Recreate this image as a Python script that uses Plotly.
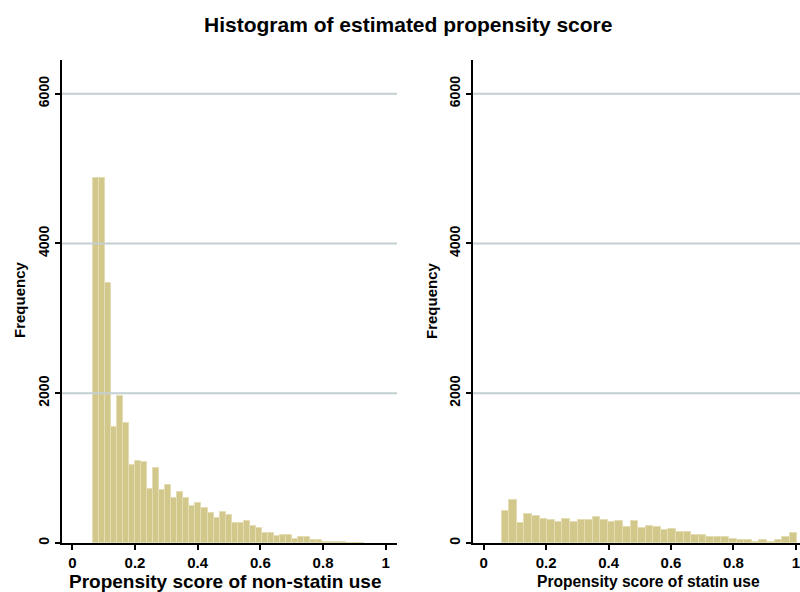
import plotly.graph_objects as go

# ---- data ----
left_counts = [4880, 4880, 3470, 1547, 1960, 1600, 1040, 1100, 1085, 720,
               1000, 707, 770, 604, 680, 596, 493, 537, 462, 404,
               329, 418, 369, 267, 267, 293, 222, 204, 138, 138,
               93, 111, 110, 55, 84, 84, 40, 35, 20, 15,
               10, 8, 5, 3, 2]
left_start = 0.0656
left_width = 0.01925

right_counts = [430, 573, 261, 386, 355, 324, 307, 274, 320, 274,
                307, 307, 344, 307, 274, 289, 208, 297, 200, 231,
                208, 173, 191, 142, 142, 111, 111, 84, 84, 84,
                53, 40, 44, 17, 40, 17, 44, 84, 137]
right_start = 0.058
right_width = 0.02426

x_ticks = [0, 0.2, 0.4, 0.6, 0.8, 1]
x_ticktext = ["0", "0.2", "0.4", "0.6", "0.8", "1"]
y_ticks = [0, 2000, 4000, 6000]
y_ticktext = ["0", "2000", "4000", "6000"]

title = "Histogram of estimated propensity score"
xlabel_left = "Propensity score of non-statin use"
xlabel_right = "Propensity score of statin use"
ylabel = "Frequency"

# ---- styling ----
FONT = "Liberation Sans, Arial, sans-serif"
BAR_FILL = "#d3c88c"
BAR_EDGE = "#e4ddb3"
GRID = "#c3cfd1"
W, H = 800, 592


def centers(start, width, n):
    return [start + width * (i + 0.5) for i in range(n)]


fig = go.Figure()
fig.add_trace(go.Bar(
    x=centers(left_start, left_width, len(left_counts)), y=left_counts,
    width=left_width, marker=dict(color=BAR_FILL, line=dict(color=BAR_EDGE, width=1)),
    xaxis="x", yaxis="y", showlegend=False, hoverinfo="x+y"))
fig.add_trace(go.Bar(
    x=centers(right_start, right_width, len(right_counts)), y=right_counts,
    width=right_width, marker=dict(color=BAR_FILL, line=dict(color=BAR_EDGE, width=1)),
    xaxis="x2", yaxis="y2", showlegend=False, hoverinfo="x+y"))

ydom = [(H - 543) / H, (H - 60) / H]
xtickfont = dict(family=FONT, size=15, color="black", weight="bold")
ytickfont = dict(family=FONT, size=14, color="black", weight="bold")
xaxis_common = dict(
    tickvals=x_ticks, ticktext=x_ticktext, showgrid=False, zeroline=False,
    showline=True, linecolor="black", linewidth=2,
    ticks="outside", ticklen=5, tickwidth=2, tickcolor="black",
    tickfont=xtickfont, ticklabeloverflow="allow",
)
yaxis_common = dict(
    tickvals=y_ticks, ticktext=y_ticktext, showgrid=False, zeroline=False,
    showline=True, linecolor="black", linewidth=2,
    ticks="outside", ticklen=5, tickwidth=2, tickcolor="black",
    tickangle=-90, range=[0, 6450], domain=ydom,
    tickfont=ytickfont,
)

fig.update_layout(
    width=W, height=H,
    margin=dict(l=0, r=0, t=0, b=0, autoexpand=False),
    paper_bgcolor="white", plot_bgcolor="white",
    bargap=0,
    xaxis=dict(domain=[62 / W, 397 / W], range=[-0.033, 1.036], anchor="y", **xaxis_common),
    yaxis=dict(anchor="x", **yaxis_common),
    xaxis2=dict(domain=[473 / W, 1.0], range=[-0.034, 1.013], anchor="y2", **xaxis_common),
    yaxis2=dict(anchor="x2", **yaxis_common),
)

# gridlines drawn above bars as in the reference
for yv in y_ticks[1:]:
    for xr, yr in (("x domain", "y"), ("x2 domain", "y2")):
        fig.add_shape(type="line", xref=xr, yref=yr, x0=0, x1=1, y0=yv, y1=yv,
                      line=dict(color=GRID, width=2), layer="above")

ann_font = dict(family=FONT, color="black")
fig.add_annotation(text="<b>" + title + "</b>", x=408 / W, y=(H - 25) / H,
                   xref="paper", yref="paper", showarrow=False,
                   font=dict(size=21, **ann_font), xanchor="center", yanchor="middle")
fig.add_annotation(text="<b>" + xlabel_left + "</b>", x=225 / W, y=(H - 581) / H,
                   xref="paper", yref="paper", showarrow=False,
                   font=dict(size=19, **ann_font), xanchor="center", yanchor="middle")
fig.add_annotation(text="<b>" + xlabel_right + "</b>", x=648 / W, y=(H - 581) / H,
                   xref="paper", yref="paper", showarrow=False,
                   font=dict(size=15.6, **ann_font), xanchor="center", yanchor="middle")
for xc in (19, 431):
    fig.add_annotation(text="<b>" + ylabel + "</b>", x=xc / W, y=(H - 300) / H,
                       xref="paper", yref="paper", showarrow=False, textangle=-90,
                       font=dict(size=15, **ann_font), xanchor="center", yanchor="middle")

fig.write_html("out.html", config={"displayModeBar": False},
               post_script="document.body.style.margin='0';document.body.style.overflow='hidden';")
